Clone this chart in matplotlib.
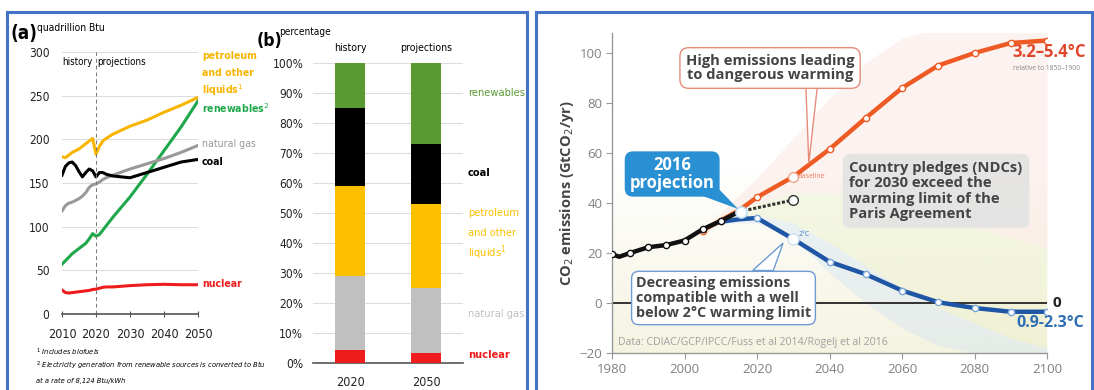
import matplotlib
matplotlib.use("Agg")
import matplotlib.pyplot as plt
from matplotlib import font_manager
from matplotlib.patches import Rectangle, Polygon
import numpy as np

W, H = 1094, 390

# ---------------- (a) world energy consumption by fuel ----------------
years_a = [2010, 2011, 2012, 2013, 2014, 2015, 2016, 2017, 2018, 2019, 2020,
           2021, 2022, 2023, 2025, 2030, 2035, 2040, 2045, 2050]
petroleum = [180, 179, 182, 185, 187, 189, 192, 195, 198, 201, 183,
             192, 198, 201, 206, 215, 222, 231, 239, 248]
natural_gas = [118, 124, 127, 128, 130, 132, 135, 139, 145, 148, 149,
               151, 154, 156, 159, 166, 172, 178, 185, 193]
coal = [159, 169, 173, 174, 170, 163, 157, 162, 166, 164, 157,
        162, 162, 160, 158, 156, 162, 168, 174, 177]
renewables = [57, 61, 65, 69, 72, 75, 78, 81, 86, 92, 89,
              91, 96, 101, 111, 134, 160, 187, 214, 244]
nuclear = [27.5, 24.5, 24, 24.5, 25, 25.5, 26, 26.5, 27, 28, 28.5,
           29.5, 30.5, 31, 31, 32.5, 33.5, 34, 33.5, 33.5]

# ---------------- (b) shares by fuel, 2020 vs 2050 ----------------
bar_years = ["2020", "2050"]
bar_heads = ["history", "projections"]
fuels = ["nuclear", "natural gas", "petroleum", "coal", "renewables"]
share_2020 = [4.5, 24.5, 30, 26, 15]
share_2050 = [3.5, 21.5, 28, 20, 27]

# ---------------- (c) CO2 emission pathways ----------------
hist_years = [1980, 1982, 1985, 1990, 1995, 2000, 2005, 2010, 2015]
hist_co2 = [19.5, 18.5, 20, 22.3, 23.2, 25, 29.5, 32.8, 36.5]
base_years = [2005, 2010, 2015, 2020, 2030, 2040, 2050, 2060, 2070, 2080, 2090, 2100]
base_co2 = [29, 33, 37, 42.3, 50.5, 61.5, 74, 86, 95, 100, 104, 105]
ndc_years = [2015, 2030]
ndc_co2 = [36.5, 41.2]
low_years = [2010, 2015, 2020, 2030, 2040, 2050, 2060, 2070, 2080, 2090, 2100]
low_co2 = [32.5, 33.5, 34, 25.6, 16.5, 11.5, 5, 0.3, -2, -3.5, -3.5]

# pale scenario fan behind the pathways
fan_years = [2005, 2010, 2020, 2030, 2040, 2050, 2060, 2070, 2080, 2090, 2100]
fan_top = [30, 36, 50, 66, 82, 96, 106, 110, 112, 112, 112]
fan_pink_low = [29, 34, 40, 44, 44, 42, 38, 34, 30, 26, 22]
fan_green_low = [28, 33, 35, 32, 24, 15, 6, -2, -8, -14, -18]
fan_blue_low = [27, 32, 32, 26, 12, 0, -10, -17, -20, -20, -20]

YELLOW = "#f7b500"
GREEN_A = "#1ea84b"
GREEN_B = "#5a9a32"
GRAY_A = "#999999"
GRAY_B = "#c0c0c0"
RED = "#ee1c1c"
ORANGE = "#ee5a24"
BLUE = "#1f55a5"

# condensed face for the EIA panels if one is installed
_faces = font_manager.fontManager.ttflist
if any(f.name == "Liberation Sans Narrow" for f in _faces):
    NARROW, STRETCH = ["Liberation Sans Narrow", "DejaVu Sans"], "normal"
elif any(f.name == "DejaVu Sans" and "condensed" in str(f.stretch) for f in _faces):
    NARROW, STRETCH = ["DejaVu Sans"], "condensed"
else:
    NARROW, STRETCH = ["Liberation Sans", "DejaVu Sans"], "normal"
ROUND = ["Open Sans", "DejaVu Sans"]

fig = plt.figure(figsize=(W / 100, H / 100), dpi=100)


def px_axes(x0, y0, x1, y1):
    return fig.add_axes([x0 / W, 1 - y1 / H, (x1 - x0) / W, (y1 - y0) / H])


def ftext(x, y, s, **kw):
    kw.setdefault("family", NARROW)
    kw.setdefault("fontstretch", STRETCH)
    kw.setdefault("va", "center")
    return fig.text(x / W, 1 - y / H, s, **kw)


def stacked_label(x, ys, lines, **kw):
    for y, line in zip(ys, lines):
        ftext(x, y, line, **kw)


def narrow_ticks(a):
    for lab in a.get_xticklabels() + a.get_yticklabels():
        lab.set_family(NARROW)
        lab.set_fontstretch(STRETCH)


# outer frames
for x0, x1 in [(7, 527), (536, 1092)]:
    fig.patches.append(Rectangle((x0 / W, -0.05), (x1 - x0) / W, 1 - 12 / H + 0.05,
                                 transform=fig.transFigure, fill=False,
                                 edgecolor="#4472c4", lw=2.2))

# ---------------- panel (a) ----------------
ax = px_axes(62, 52, 198, 314)
ax.plot(years_a, nuclear, color=RED, lw=2.2)
ax.plot(years_a, renewables, color=GREEN_A, lw=2.2)
ax.plot(years_a, natural_gas, color=GRAY_A, lw=2.2)
ax.plot(years_a, coal, color="black", lw=2.2)
ax.plot(years_a, petroleum, color=YELLOW, lw=2.2)
ax.axvline(2020, color="#777777", lw=0.7, ls=(0, (4, 3)))
ax.set_xlim(2010, 2050)
ax.set_ylim(0, 300)
ax.set_yticks(range(0, 301, 50))
ax.set_xticks(range(2010, 2051, 10))
ax.grid(axis="y", color="#dddddd", lw=0.8)
ax.set_axisbelow(True)
for s in ["top", "right", "left"]:
    ax.spines[s].set_visible(False)
ax.spines["bottom"].set_color("#555555")
ax.spines["bottom"].set_linewidth(1.2)
ax.tick_params(axis="y", length=0, pad=9, labelsize=8.6, labelcolor="#222222")
ax.tick_params(axis="x", length=4, direction="inout", color="#555555", pad=8,
               labelsize=9, labelcolor="#222222")
narrow_ticks(ax)
ftext(93, 62, "history", ha="right", fontsize=7)
ftext(97, 62, "projections", ha="left", fontsize=7)

ftext(10, 33, "(a)", fontsize=13.5, fontweight="bold")
ftext(37, 28, "quadrillion Btu", fontsize=7.4)
stacked_label(202, [56, 73, 90], ["petroleum", "and other", "liquids$^1$"],
              color=YELLOW, fontsize=7.6, fontweight="bold")
ftext(202, 108, "renewables$^2$", color=GREEN_A, fontsize=7.6, fontweight="bold")
ftext(202, 144, "natural gas", color=GRAY_A, fontsize=7.6)
ftext(202, 162, "coal", color="black", fontsize=7.6, fontweight="bold")
ftext(202, 284, "nuclear", color=RED, fontsize=7.6, fontweight="bold")
ftext(36, 352, "$^1$ Includes biofuels", fontsize=5.4, style="italic")
ftext(36, 366, "$^2$ Electricity generation from renewable sources is converted to Btu",
      fontsize=5.4, style="italic")
ftext(36, 381, "at a rate of 8,124 Btu/kWh", fontsize=5.4, style="italic")

# ---------------- panel (b) ----------------
bx = px_axes(313, 63, 463, 363)
bar_colors = [RED, GRAY_B, "#fcc000", "black", GREEN_B]
xpos = np.arange(len(bar_years))
bottom = np.zeros(2)
for i, c in enumerate(bar_colors):
    vals = np.array([share_2020[i], share_2050[i]])
    bx.bar(xpos, vals, bottom=bottom, width=0.395, color=c, zorder=3)
    bottom += vals
bx.set_xlim(-0.487, 1.487)
bx.set_ylim(0, 100)
bx.set_yticks(range(0, 101, 10))
bx.set_yticklabels([f"{v}%" for v in range(0, 101, 10)])
bx.set_xticks(xpos)
bx.set_xticklabels(bar_years)
bx.grid(axis="y", color="#dddddd", lw=0.8)
bx.set_axisbelow(True)
for s in ["top", "right", "left"]:
    bx.spines[s].set_visible(False)
bx.spines["bottom"].set_color("#555555")
bx.spines["bottom"].set_linewidth(1.2)
bx.tick_params(axis="y", length=0, pad=7, labelsize=8.6, labelcolor="#222222")
bx.tick_params(axis="x", length=0, pad=9, labelsize=9, labelcolor="#222222")
narrow_ticks(bx)
for x, head in zip(xpos, bar_heads):
    bx.text(x, 105, head, ha="center", va="center", fontsize=7.6, family=NARROW,
            fontstretch=STRETCH, clip_on=False)

ftext(257, 41, "(b)", fontsize=12.5, fontweight="bold")
ftext(279, 32, "percentage", fontsize=7.2)
ftext(468, 93, "renewables", color=GREEN_B, fontsize=7.9)
ftext(468, 173, "coal", color="black", fontsize=7.9, fontweight="bold")
stacked_label(468, [213, 233, 253], ["petroleum", "and other", "liquids$^1$"],
              color="#fcc000", fontsize=7.9)
ftext(468, 314, "natural gas", color=GRAY_B, fontsize=7.9)
ftext(468, 355, "nuclear", color=RED, fontsize=7.9, fontweight="bold")

# ---------------- panel (c) ----------------
cx = px_axes(612, 33, 1047, 353)
cx.set_xlim(1980, 2100)
cx.set_ylim(-20, 108)
# cream wash fading upwards
wash = np.linspace(1, 0, 64).reshape(-1, 1)
cream = np.ones((64, 1, 4))
cream[..., :3] = matplotlib.colors.to_rgb("#f4f1dc")
cream[..., 3] = wash * 0.85
cx.imshow(cream, extent=[1980, 2100, -20, 55], aspect="auto", origin="lower",
          zorder=0, interpolation="bilinear")
cx.fill_between(fan_years, fan_pink_low, fan_top, color="#f7cfc3", alpha=0.25, lw=0, zorder=1)
cx.fill_between(fan_years, fan_green_low, fan_pink_low, color="#e9efc6", alpha=0.45, lw=0, zorder=1)
cx.fill_between(fan_years, fan_blue_low, fan_green_low, color="#cfe2f1", alpha=0.4, lw=0, zorder=1)
cx.axhline(0, color="#222222", lw=1.3, zorder=2)

cx.plot(base_years, base_co2, color=ORANGE, lw=3.2, zorder=4, marker="o", ms=4.5,
        mfc="white", mec=ORANGE, mew=1)
cx.plot(low_years, low_co2, color=BLUE, lw=3.2, zorder=4, marker="o", ms=4.5,
        mfc="white", mec="#7aa7d8", mew=1, markevery=list(range(2, len(low_years))))
cx.plot(ndc_years, ndc_co2, color="#333333", lw=2.2, ls=(0, (1, 0.6)), zorder=4)
cx.plot(hist_years, hist_co2, color="#111111", lw=3.2, zorder=5, marker="o", ms=4.5,
        mfc="white", mec="#111111", mew=1, markevery=[0, 2, 3, 4, 5, 6, 7])
# highlighted scenario points
cx.plot([2015.5], [36.5], "o", ms=8, mfc="white", mec="#bfe0f2", mew=1.2, zorder=6)
cx.plot([base_years[4]], [base_co2[4]], "o", ms=7, mfc="white", mec="#f3a58c", mew=1, zorder=6)
cx.plot([ndc_years[1]], [ndc_co2[1]], "o", ms=7, mfc="white", mec="#333333", mew=1, zorder=6)
cx.plot([low_years[3]], [low_co2[3]], "o", ms=8, mfc="white", mec="#cfe0f0", mew=1, zorder=6)
cx.text(2031.2, 50.5, "Baseline", color="#ee7a5a", fontsize=5, va="center", family=ROUND)
cx.text(2031.4, 27.5, "2°C", color="#3d78c0", fontsize=5, va="center", family=ROUND)

for s in ["top", "right"]:
    cx.spines[s].set_visible(False)
for s in ["left", "bottom"]:
    cx.spines[s].set_color("#999999")
    cx.spines[s].set_linewidth(1)
cx.set_yticks(range(-20, 101, 20))
cx.set_yticklabels(["\u221220", "0", "20", "40", "60", "80", "100"])
cx.set_xticks(range(1980, 2101, 20))
cx.tick_params(length=4, color="#999999", labelsize=9.5, labelcolor="#808080", pad=3)
for lab in cx.get_xticklabels() + cx.get_yticklabels():
    lab.set_family(ROUND)
cx.set_ylabel("CO$_2$ emissions (GtCO$_2$/yr)", fontsize=10.5, fontweight="bold",
              color="#444444", family=ROUND)
cx.yaxis.set_label_coords(-0.083, 0.5)

TXT = "#444444"
# callout: high emissions
cx.add_patch(Polygon([[2033.5, 86], [2036.6, 86], [2034.3, 56]], closed=True,
                     fc="white", ec="#e58c7a", lw=1, zorder=7))
cx.text(2023.6, 94, "High emissions leading\nto dangerous warming", ha="center",
        va="center", fontsize=10.6, fontweight="bold", color=TXT, family=ROUND,
        linespacing=1.08, zorder=8,
        bbox=dict(boxstyle="round,pad=0.4,rounding_size=0.6", fc="white", ec="#e58c7a", lw=1))
# callout: 2016 projection
cx.add_patch(Polygon([[2004.3, 43.2], [2009.2, 46], [2014.8, 37.6]], closed=True,
                     fc="#2a90d4", ec="none", zorder=7))
cx.text(1996.6, 51.6, "2016\nprojection", ha="center", va="center", fontsize=12,
        fontweight="bold", color="white", family=ROUND, linespacing=0.95, zorder=8,
        bbox=dict(boxstyle="round,pad=0.3,rounding_size=0.5", fc="#2a90d4", ec="none"))
# callout: country pledges
cx.text(2045.5, 44.8, "Country pledges (NDCs)\nfor 2030 exceed the\nwarming limit of the\nParis Agreement",
        ha="left", va="center", fontsize=10.6, fontweight="bold", color=TXT, family=ROUND,
        linespacing=1.15, zorder=8,
        bbox=dict(boxstyle="round,pad=0.45,rounding_size=0.5", fc="#e3e3e3", ec="none", alpha=0.92))
# callout: decreasing emissions
cx.add_patch(Polygon([[2018.8, 13], [2024.5, 13], [2027.2, 24]], closed=True,
                     fc="white", ec="#6f9bd2", lw=1, zorder=7))
cx.text(1986.6, 2.0, "Decreasing emissions\ncompatible with a well\nbelow 2°C warming limit",
        ha="left", va="center", fontsize=10.4, fontweight="bold", color=TXT, family=ROUND,
        linespacing=1.12, zorder=8,
        bbox=dict(boxstyle="round,pad=0.3,rounding_size=0.5", fc="white", ec="#6f9bd2", lw=1))

cx.text(1981.7, -15.6, "Data: CDIAC/GCP/IPCC/Fuss et al 2014/Rogelj et al 2016", fontsize=7.6,
        color="#a0a0a0", va="center", family=ROUND)
cx.text(2101.5, 0, "0", fontsize=11, fontweight="bold", color="#222222", va="center",
        family=ROUND, clip_on=False)
cx.text(2091.5, -8, "0.9-2.3°C", fontsize=11.5, fontweight="bold", color="#2f6db5",
        va="center", ha="left", family=ROUND, clip_on=False)
cx.text(2090.5, 100.3, "3.2\u20135.4°C", fontsize=12, fontweight="bold", color="#e0472c",
        va="center", ha="left", family=ROUND, clip_on=False)
cx.text(2090.5, 94, "relative to 1850\u20131900", fontsize=4.8, color="#888888",
        va="center", ha="left", family=ROUND, clip_on=False)

fig.savefig("out.png", dpi=100)
